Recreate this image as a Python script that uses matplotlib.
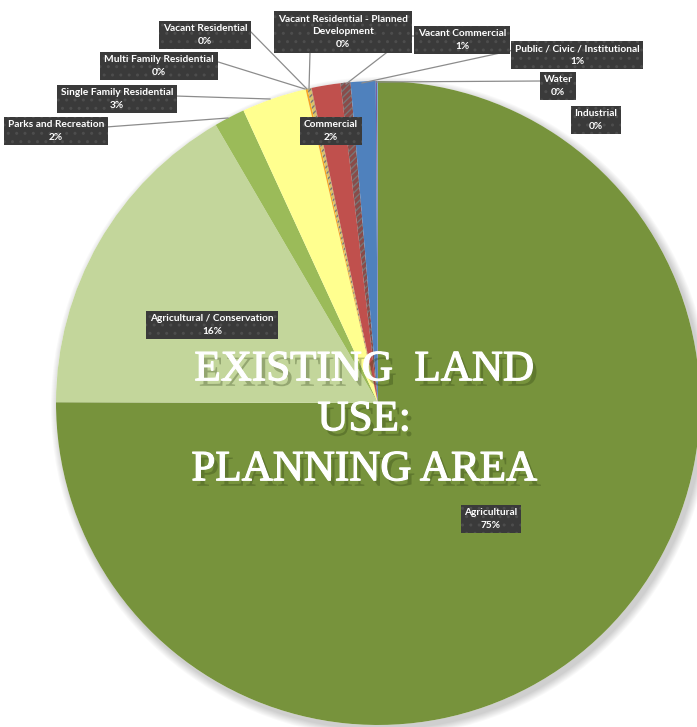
import matplotlib
matplotlib.use("Agg")
import matplotlib.pyplot as plt
import matplotlib.patheffects as pe
from matplotlib.patches import Circle

# Land use shares (percent), clockwise from 12 o'clock
categories = [
    "Agricultural",
    "Agricultural / Conservation",
    "Parks and Recreation",
    "Single Family Residential",
    "Multi Family Residential",
    "Vacant Residential",
    "Vacant Residential - Planned\nDevelopment",
    "Commercial",
    "Vacant Commercial",
    "Public / Civic / Institutional",
    "Water",
    "Industrial",
]
values = [75.04, 16.55, 1.55, 3.25, 0.10, 0.17, 0.03, 1.45, 0.50, 1.25, 0.08, 0.03]
pct_labels = ["75%", "16%", "2%", "3%", "0%", "0%", "0%", "2%", "1%", "1%", "0%", "0%"]
colors = ["#77933C", "#C3D69B", "#9BBB59", "#FFFF8F", "#F5A623", "#D9C36A",
          "#B08A50", "#C0504D", "#8A4B49", "#4F81BD", "#7A5BA0", "#4BACC6"]
hatches = [None, None, None, None, None, "/////", None, None, "/////", None, None, None]

W, H = 697, 727
fig = plt.figure(figsize=(W / 100, H / 100), dpi=100)
ax = fig.add_axes([0, 0, 1, 1])

cx, cy, r = 378, H - 403, 322

# soft shadow behind the pie
for i in range(8):
    ax.add_patch(Circle((cx + 3, cy - 4), r + 1 + i, color="black", alpha=0.025, lw=0, zorder=0))
ax.add_patch(Circle((cx, cy), r, color="white", lw=0, zorder=0.5))

wedges, _ = ax.pie(values, colors=colors, startangle=90, counterclock=False,
                   center=(cx, cy), radius=r, frame=True,
                   wedgeprops=dict(linewidth=0))
for w, h in zip(wedges, hatches):
    w.set_zorder(1)
    if h:
        w.set_hatch(h)
        w.set_edgecolor("#777777")
        w.set_linewidth(0)
ax.set_xlim(0, W)
ax.set_ylim(0, H)
ax.set_aspect("equal")
ax.axis("off")

# label box positions (pixel coords, y from top) and leader lines
label_pos = [(491, 519), (212, 325), (56, 131), (117, 99), (159, 66), (205, 35),
             (343, 32), (331, 131), (462, 40), (577, 55), (558, 86), (596, 120)]
leaders = {
    2: [(106, 127), (228, 118)],
    3: [(175, 96), (270, 99)],
    4: [(215, 61), (305, 89)],
    5: [(249, 30), (307, 89)],
    6: [(310, 53), (309, 89)],
    8: [(416, 36), (408, 36), (346, 84)],
    9: [(514, 50), (362, 83)],
    10: [(541, 81), (376, 82)],
}
for k, pts in leaders.items():
    xs = [p[0] for p in pts]
    ys = [H - p[1] for p in pts]
    ax.plot(xs, ys, color="#8c8c8c", lw=0.9, zorder=2)

for name, pct, (px, py) in zip(categories, pct_labels, label_pos):
    ax.text(px, H - py, f"{name}\n{pct}", ha="center", va="center",
            multialignment="center", fontsize=7.3, fontweight="bold",
            family="Lato", color="white", linespacing=1.45, zorder=5,
            bbox=dict(boxstyle="square,pad=0.38", fc="#3a3a3a", ec="#4d4d4d",
                      lw=0, hatch="..", alpha=1))

title_fx = [pe.withSimplePatchShadow(offset=(3, -4), shadow_rgbFace="#2a3a10", alpha=0.3),
            pe.withStroke(linewidth=0.9, foreground="white")]
title_lines = [("EXISTING  LAND", 370), ("USE:", 420), ("PLANNING AREA", 470)]
for txt, py in title_lines:
    ax.text(364, H - py, txt, ha="center", va="center", fontsize=31,
            family="Liberation Serif", color="white", zorder=6,
            path_effects=title_fx)

fig.savefig("out.png", dpi=100)
